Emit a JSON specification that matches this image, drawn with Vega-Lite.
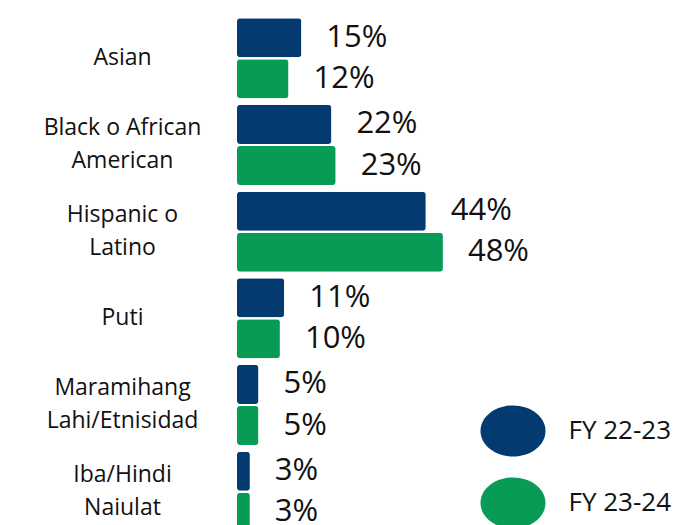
{
  "$schema": "https://vega.github.io/schema/vega-lite/v6.json",
  "autosize": "none",
  "padding": {"left": 237, "top": 15, "right": 29, "bottom": 0},
  "width": 429,
  "height": 510,
  "background": "white",
  "config": {
    "view": {"stroke": null},
    "font": "Open Sans"
  },
  "data": {
    "values": [
      {"category": "Asian", "year": "FY 22-23", "value": 0.15},
      {"category": "Asian", "year": "FY 23-24", "value": 0.12},
      {"category": "Black o African|American", "year": "FY 22-23", "value": 0.22},
      {"category": "Black o African|American", "year": "FY 23-24", "value": 0.23},
      {"category": "Hispanic o|Latino", "year": "FY 22-23", "value": 0.44},
      {"category": "Hispanic o|Latino", "year": "FY 23-24", "value": 0.48},
      {"category": "Puti", "year": "FY 22-23", "value": 0.11},
      {"category": "Puti", "year": "FY 23-24", "value": 0.10},
      {"category": "Maramihang|Lahi/Etnisidad", "year": "FY 22-23", "value": 0.05},
      {"category": "Maramihang|Lahi/Etnisidad", "year": "FY 23-24", "value": 0.05},
      {"category": "Iba/Hindi|Naiulat", "year": "FY 22-23", "value": 0.03},
      {"category": "Iba/Hindi|Naiulat", "year": "FY 23-24", "value": 0.03}
    ]
  },
  "encoding": {
    "y": {
      "field": "category",
      "type": "nominal",
      "sort": null,
      "scale": {"paddingInner": 0.076, "paddingOuter": 0.038, "range": [0, 520]},
      "axis": {
        "title": null,
        "domain": false,
        "ticks": false,
        "labelExpr": "split(datum.label, '|')",
        "labelAlign": "center",
        "labelBaseline": "middle",
        "labelPadding": 115,
        "labelOffset": {"condition": {"test": "indexof(datum.value, '|') >= 0", "value": -17}, "value": 0},
        "labelFont": "Open Sans",
        "labelFontSize": 23,
        "labelColor": "#111111",
        "labelLineHeight": 33,
        "labelLimit": 300
      }
    },
    "yOffset": {
      "field": "year",
      "type": "nominal",
      "scale": {"paddingInner": 0.05, "paddingOuter": 0}
    },
    "x": {
      "field": "value",
      "type": "quantitative",
      "scale": {"domain": [0, 1]},
      "axis": null
    }
  },
  "layer": [
    {
      "mark": {"type": "bar", "cornerRadius": 3},
      "encoding": {
        "color": {
          "field": "year",
          "type": "nominal",
          "scale": {"domain": ["FY 22-23", "FY 23-24"], "range": ["#033A70", "#089B55"]},
          "legend": {
            "title": null,
            "orient": "none",
            "legendX": 243.5,
            "legendY": 383.5,
            "padding": 0,
            "symbolType": "M-1,0A1,0.785,0,1,1,1,0A1,0.785,0,1,1,-1,0Z",
            "symbolSize": 4225,
            "symbolStrokeWidth": 0,
            "symbolOpacity": 1,
            "labelFont": "Open Sans",
            "labelFontSize": 26,
            "labelColor": "#111111",
            "labelOffset": 23,
            "rowPadding": 13
          }
        }
      }
    },
    {
      "mark": {
        "type": "text",
        "align": "left",
        "baseline": "middle",
        "dx": 25,
        "font": "Open Sans",
        "fontSize": 31,
        "color": "#111111"
      },
      "encoding": {
        "text": {"field": "value", "type": "quantitative", "format": ".0%"}
      }
    }
  ]
}
